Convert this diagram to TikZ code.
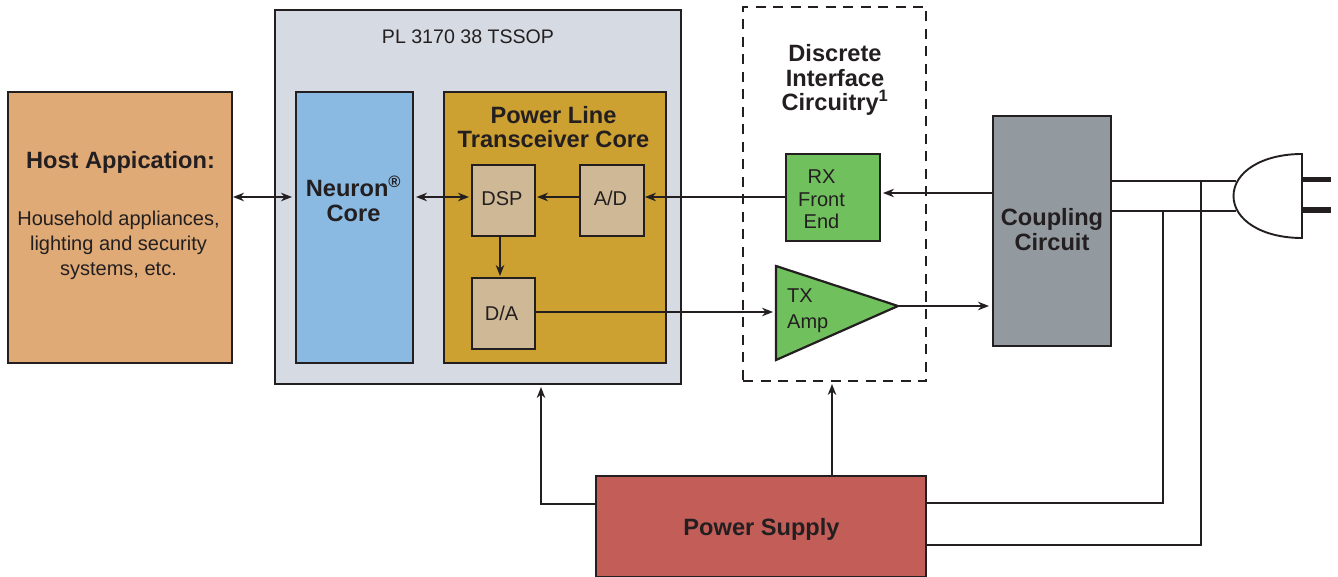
\documentclass[tikz,border=0pt]{standalone}
\usepackage{fontspec}
\setmainfont{Liberation Sans}
\usetikzlibrary{arrows.meta,positioning}
\definecolor{ink}{HTML}{231F20}
\definecolor{hostc}{HTML}{DFAA76}
\definecolor{chipc}{HTML}{D6DAE3}
\definecolor{neuronc}{HTML}{8AB9E2}
\definecolor{corec}{HTML}{CDA032}
\definecolor{tanc}{HTML}{CFB895}
\definecolor{greenc}{HTML}{70C05D}
\definecolor{couplec}{HTML}{92999F}
\definecolor{powerc}{HTML}{C25D58}
\tikzset{
  x=1pt,y=-1pt,
  span/.style n args={4}{at={({(#1+#2)/2},{(#3+#4)/2})},minimum width={(#2-#1)*1pt},minimum height={(#4-#3)*1pt}},
  block/.style={draw=ink,line width=2.2pt,inner sep=0pt,align=center,text=ink},
  lbl/.style={inner sep=0pt,align=center,text=ink},
  small/.style={font=\fontsize{20}{25}\selectfont},
  big/.style={font=\fontsize{23.6}{24.8}\selectfont\bfseries},
  wire/.style={draw=ink,line width=1.8pt},
  arr/.style={wire,-{Stealth[length=11pt,width=8.5pt]}},
  biarr/.style={wire,{Stealth[length=11pt,width=8.5pt]}-{Stealth[length=11pt,width=8.5pt]}},
}
\begin{document}
\begin{tikzpicture}
\useasboundingbox (0,0) rectangle (1338,577);
% outer blocks
\node[block,fill=chipc,span={275}{681}{10}{384}] (chip) {};
\node[lbl,font=\fontsize{19.6}{25}\selectfont] (chiplabel) at (468,36.5) {PL 3170 38 TSSOP};
\node[block,fill=hostc,span={8}{232}{92}{363}] (host) {};
\node[lbl,big] (hosttitle) at (120.5,162) {Host Appication:};
\node[lbl,small] (hosttext) at (118.5,245) {Household appliances,\\lighting and security\\systems, etc.};
\node[block,fill=neuronc,span={296}{413}{92}{363}] (neuron) {};
\node[lbl,big] (neurontext) at (353.5,199) {Neuron\textsuperscript{®}\\Core};
\node[block,fill=corec,span={444}{666}{92}{363}] (core) {};
\node[lbl,big] (coretext) at (553.5,127) {Power Line\\Transceiver Core};
\node[block,fill=tanc,small,span={472}{535}{165}{236}] (dsp) {};
\node[lbl,small] (dsptext) at (502,198.5) {DSP};
\node[block,fill=tanc,small,span={580}{644}{165}{236}] (ad) {};
\node[lbl,small] (adtext) at (610.5,198.5) {A/D};
\node[block,fill=tanc,small,span={472}{535}{278}{349}] (da) {};
\node[lbl,small] (datext) at (501.5,313) {D/A};
% discrete interface
\node[draw=ink,line width=2.2pt,dash pattern=on 10pt off 7.5pt,inner sep=0pt,span={743}{926}{7}{381}] (disc) {};
\node[lbl,big] (disctext) at (835,80) {Discrete\\Interface\\Circuitry\textsuperscript{1}};
\node[block,fill=greenc,small,span={786}{880}{154}{241}] (rx) {};
\node[lbl,font=\fontsize{20}{22.5}\selectfont] (rxtext) at (821.5,199.5) {RX\\Front\\End};
\coordinate (txa) at (776,266);
\coordinate (txb) at (776,360);
\coordinate (txtip) at (898,306);
\draw[ink,line width=2.2pt,fill=greenc,line join=miter] (txa) -- (txtip) -- (txb) -- cycle;
\node[lbl,font=\fontsize{20}{26}\selectfont,align=left,anchor=west] (txtext) at (787,310.5) {TX\\Amp};
\node[block,fill=couplec,span={993}{1111}{116}{346}] (couple) {};
\node[lbl,big] (coupletext) at (1052,229.5) {Coupling\\Circuit};
\node[block,fill=powerc,span={596}{926}{476}{577}] (power) {};
\node[lbl,big] (powertext) at (761.5,529) {Power Supply};
% plug
\coordinate (plugtop) at (1302,154);
\coordinate (plugbot) at (1302,238);
\coordinate (plugleft) at (1233.5,196);
\draw[ink,line width=1.9pt,fill=white] (plugtop) .. controls (1262,154) and (1233.5,172) .. (plugleft) .. controls (1233.5,220) and (1262,238) .. (plugbot) -- cycle;
\coordinate (p1a) at (1303,179.5); \coordinate (p1b) at (1331,179.5);
\coordinate (p2a) at (1303,210); \coordinate (p2b) at (1331,210);
\draw[ink,line width=5.5pt] (p1a) -- (p1b);
\draw[ink,line width=5.5pt] (p2a) -- (p2b);
% connectors
\coordinate (hostr) at (233,197); \coordinate (neurl) at (292,197);
\draw[biarr] (hostr) -- (neurl);
\coordinate (neurr) at (416,197); \coordinate (dspl) at (469,197);
\draw[biarr] (neurr) -- (dspl);
\coordinate (dspr) at (537,197);
\draw[arr] (ad.west |- dspr) -- (dspr);
\coordinate (adr) at (645,197);
\draw[arr] (rx.west |- adr) -- (adr);
\coordinate (rxr) at (883,193);
\draw[arr] (couple.west |- rxr) -- (rxr);
\coordinate (dat) at (500,276); 
\draw[arr] (dsp.south -| dat) -- (dat);
\coordinate (txin) at (773,312);
\draw[arr] (da.east |- txin) -- (txin);
\coordinate (coupin) at (989,306);
\draw[arr] (txtip) -- (coupin);
\coordinate (psa) at (596,504); \coordinate (chipin) at (541,387);
\draw[arr] (psa) -| (chipin);
\coordinate (discin) at (832,384);
\draw[arr] (power.north -| discin) -- (discin);
\coordinate (ln) at (1163,503); \coordinate (ltop) at (1163,211);
\draw[wire] (power.east |- ln) -- (ln) -- (ltop);
\coordinate (mn) at (1201,545); \coordinate (mtop) at (1201,180);
\draw[wire] (power.east |- mn) -- (mn) -- (mtop);
\coordinate (l1) at (1236,181); \coordinate (l2) at (1236,211);
\draw[wire] (couple.east |- l1) -- (l1);
\draw[wire] (couple.east |- l2) -- (l2);
\end{tikzpicture}
\end{document}
